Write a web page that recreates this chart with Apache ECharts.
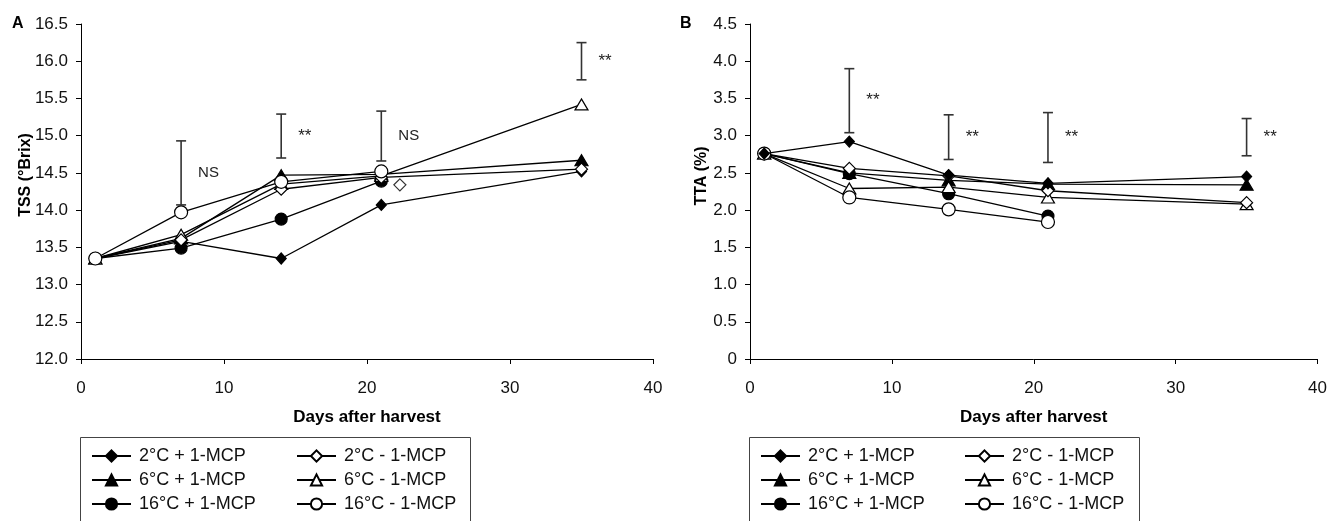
<!DOCTYPE html>
<html>
<head>
<meta charset="utf-8">
<script src="https://cdn.jsdelivr.net/npm/echarts@6/dist/echarts.min.js"></script>
<style>
html,body{margin:0;padding:0;background:#fff;}
#chart{width:1330px;height:521px;}
</style>
</head>
<body>
<div id="chart"></div>
<script>
// ---------- data ----------
const days = [1, 7, 14, 21, 35];
const seriesNames = ['2°C + 1-MCP', '2°C - 1-MCP', '6°C + 1-MCP', '6°C - 1-MCP', '16°C + 1-MCP', '16°C - 1-MCP'];

// Panel A: TSS (°Brix)
const tss_2p  = [13.35, 13.58, 13.35, 14.07, 14.52];
const tss_2m  = [13.35, 13.60, 14.28, 14.44, 14.55];
const tss_6p  = [13.35, 13.62, 14.47, 14.48, 14.67];
const tss_6m  = [13.35, 13.67, 14.35, 14.46, 15.42];
const tss_16p = [13.35, 13.49, 13.88, 14.39, null];
const tss_16m = [13.35, 13.97, 14.38, 14.52, null];
const tss_extra = [[22.3, 14.34]];           // isolated open diamond
const tssErrDays = [7, 14, 21, 35];
const tssErrLow  = [14.07, 14.70, 14.66, 15.75];
const tssErrHigh = [14.93, 15.29, 15.33, 16.25];
const tssSig     = ['NS', '**', 'NS', '**'];

// Panel B: TTA (%)
const tta_2p  = [2.76, 2.92, 2.47, 2.36, 2.45];
const tta_2m  = [2.76, 2.56, 2.46, 2.26, 2.10];
const tta_6p  = [2.76, 2.50, 2.40, 2.35, 2.34];
const tta_6m  = [2.76, 2.29, 2.31, 2.17, 2.08];
const tta_16p = [2.76, 2.49, 2.22, 1.92, null];
const tta_16m = [2.76, 2.17, 2.01, 1.84, null];
const ttaErrDays = [7, 14, 21, 35];
const ttaErrLow  = [3.04, 2.68, 2.64, 2.73];
const ttaErrHigh = [3.90, 3.28, 3.31, 3.23];
const ttaSig     = ['**', '**', '**', '**'];

const xTicks = [0, 10, 20, 30, 40];

// ---------- styles ----------
const FONT = "'Liberation Sans', Arial, sans-serif";
const NARROW = "'Liberation Sans Narrow', 'Liberation Sans', Arial, sans-serif";
const styles = {
  '2°C + 1-MCP':  {symbol: 'diamond',  size: [10, 11], fill: '#000'},
  '2°C - 1-MCP':  {symbol: 'diamond',  size: [12, 12], fill: '#fff'},
  '6°C + 1-MCP':  {symbol: 'triangle', size: [13, 11], fill: '#000'},
  '6°C - 1-MCP':  {symbol: 'triangle', size: [13, 11], fill: '#fff'},
  '16°C + 1-MCP': {symbol: 'circle',   size: 12, fill: '#000'},
  '16°C - 1-MCP': {symbol: 'circle',   size: 13, fill: '#fff'}
};

function pairs(vals) { return days.map((d, i) => [d, vals[i]]); }

function lineSeries(name, vals, idx) {
  const s = styles[name];
  return {
    type: 'line', name: name, xAxisIndex: idx, yAxisIndex: idx,
    data: pairs(vals), symbol: s.symbol, symbolSize: s.size,
    showAllSymbol: true, connectNulls: false,
    lineStyle: {color: '#000', width: 1.3},
    itemStyle: {color: s.fill, borderColor: '#000', borderWidth: 1.2},
    emphasis: {disabled: true}, z: s.fill === '#fff' ? 4 : 3
  };
}

function errSeries(idx, dd, lo, hi, sig) {
  return {
    type: 'custom', xAxisIndex: idx, yAxisIndex: idx,
    data: dd.map((d, i) => [d, lo[i], hi[i]]),
    silent: true, z: 2,
    renderItem: function (params, api) {
      const x = api.value(0);
      const pLo = api.coord([x, api.value(1)]);
      const pHi = api.coord([x, api.value(2)]);
      const st = {stroke: '#333', lineWidth: 1.6};
      const hw = 5;
      const lab = sig[params.dataIndex];
      return {type: 'group', children: [
        {type: 'line', shape: {x1: pLo[0], y1: pLo[1], x2: pHi[0], y2: pHi[1]}, style: st},
        {type: 'line', shape: {x1: pLo[0] - hw, y1: pLo[1], x2: pLo[0] + hw, y2: pLo[1]}, style: st},
        {type: 'line', shape: {x1: pHi[0] - hw, y1: pHi[1], x2: pHi[0] + hw, y2: pHi[1]}, style: st},
        {type: 'text', x: pLo[0] + 17, y: (pLo[1] + pHi[1]) / 2,
          style: {text: lab, fill: '#222',
            fontSize: lab === 'NS' ? 15 : 17,
            fontFamily: lab === 'NS' ? NARROW : FONT,
            align: 'left', verticalAlign: 'middle'}}
      ]};
    }
  };
}

function xAxis(idx) {
  return {
    type: 'value', gridIndex: idx, min: 0, max: 40, interval: 10,
    name: 'Days after harvest', nameLocation: 'middle', nameGap: 50,
    nameTextStyle: {fontFamily: FONT, fontWeight: 'bold', fontSize: 17, color: '#000'},
    axisLine: {show: true, lineStyle: {color: '#000', width: 1}},
    axisTick: {show: true, length: 5, lineStyle: {color: '#000'}},
    axisLabel: {fontFamily: FONT, fontSize: 17, color: '#111', margin: 21,
      formatter: v => (xTicks.indexOf(v) >= 0 ? String(v) : '')},
    splitLine: {show: false}
  };
}

function yAxis(idx, min, max) {
  return {
    type: 'value', gridIndex: idx, min: min, max: max, interval: 0.5,
    axisLine: {show: true, lineStyle: {color: '#000', width: 1}},
    axisTick: {show: true, length: 5, lineStyle: {color: '#000'}},
    axisLabel: {fontFamily: FONT, fontSize: 17, color: '#111', margin: 13,
      formatter: v => (v === 0 ? '0' : v.toFixed(1))},
    splitLine: {show: false}
  };
}

function legend(left, names) {
  return {
    left: left, top: 447, orient: 'vertical', padding: 0,
    itemWidth: 39, itemHeight: 14, itemGap: 6,
    data: names, selectedMode: false,
    textStyle: {fontFamily: FONT, fontSize: 18, color: '#111', padding: [0, 0, 0, 3], lineHeight: 18}
  };
}

const series = [
  errSeries(0, tssErrDays, tssErrLow, tssErrHigh, tssSig),
  lineSeries('2°C + 1-MCP', tss_2p, 0),
  lineSeries('6°C + 1-MCP', tss_6p, 0),
  lineSeries('16°C + 1-MCP', tss_16p, 0),
  lineSeries('6°C - 1-MCP', tss_6m, 0),
  lineSeries('2°C - 1-MCP', tss_2m, 0),
  lineSeries('16°C - 1-MCP', tss_16m, 0),
  {type: 'scatter', xAxisIndex: 0, yAxisIndex: 0, data: tss_extra, symbol: 'diamond', symbolSize: [12, 12],
    itemStyle: {color: '#fff', borderColor: '#000', borderWidth: 1.2}, silent: true, z: 4},
  errSeries(1, ttaErrDays, ttaErrLow, ttaErrHigh, ttaSig),
  lineSeries('16°C + 1-MCP', tta_16p, 1),
  lineSeries('6°C + 1-MCP', tta_6p, 1),
  lineSeries('2°C + 1-MCP', tta_2p, 1),
  lineSeries('6°C - 1-MCP', tta_6m, 1),
  lineSeries('2°C - 1-MCP', tta_2m, 1),
  lineSeries('16°C - 1-MCP', tta_16m, 1)
];
// filled diamond on top in panel B
series[11].z = 5;

const option = {
  animation: false,
  backgroundColor: '#fff',
  grid: [
    {left: 81, top: 24, width: 572, height: 335},
    {left: 750, top: 24, width: 573, height: 335}
  ],
  xAxis: [xAxis(0), xAxis(1)],
  yAxis: [yAxis(0, 12, 16.5), yAxis(1, 0, 4.5)],
  legend: [
    legend(91, ['2°C + 1-MCP', '6°C + 1-MCP', '16°C + 1-MCP']),
    legend(296, ['2°C - 1-MCP', '6°C - 1-MCP', '16°C - 1-MCP']),
    legend(760, ['2°C + 1-MCP', '6°C + 1-MCP', '16°C + 1-MCP']),
    legend(964, ['2°C - 1-MCP', '6°C - 1-MCP', '16°C - 1-MCP'])
  ],
  graphic: [
    {type: 'text', left: 12, top: 16, style: {text: 'A', fontWeight: 'bold', fontSize: 16, fontFamily: FONT, fill: '#000'}},
    {type: 'text', left: 680, top: 16, style: {text: 'B', fontWeight: 'bold', fontSize: 16, fontFamily: FONT, fill: '#000'}},
    {type: 'text', x: 26, y: 175, rotation: Math.PI / 2,
      style: {text: 'TSS (°Brix)', fontWeight: 'bold', fontSize: 16, fontFamily: FONT, fill: '#000', align: 'center', verticalAlign: 'middle'}},
    {type: 'text', x: 702, y: 176, rotation: Math.PI / 2,
      style: {text: 'TTA (%)', fontWeight: 'bold', fontSize: 16, fontFamily: FONT, fill: '#000', align: 'center', verticalAlign: 'middle'}},
    {type: 'rect', shape: {x: 80.5, y: 437.5, width: 390, height: 120}, style: {fill: 'none', stroke: '#444', lineWidth: 1}, z: -1},
    {type: 'rect', shape: {x: 749.5, y: 437.5, width: 390, height: 120}, style: {fill: 'none', stroke: '#444', lineWidth: 1}, z: -1}
  ],
  series: series
};

const chart = echarts.init(document.getElementById('chart'), null, {renderer: 'canvas'});
chart.setOption(option);
</script>
</body>
</html>
